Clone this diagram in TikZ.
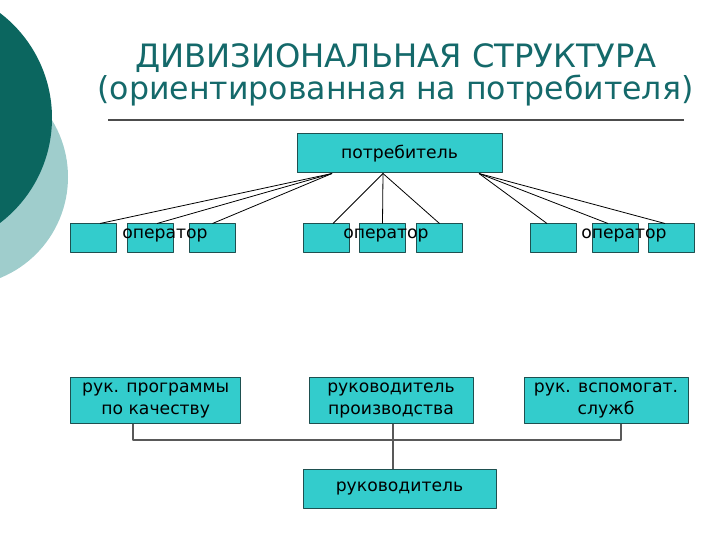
\documentclass[tikz,border=0pt]{standalone}
\usepackage{fontspec}
\setmainfont{DejaVu Sans}
\definecolor{darkteal}{HTML}{0B665F}
\definecolor{paleteal}{HTML}{9FCDCC}
\definecolor{titleteal}{HTML}{14696A}
\definecolor{turq}{HTML}{33CCCC}
\definecolor{boxedge}{HTML}{1E5050}
\tikzset{
  box/.style={draw=boxedge, fill=turq, line width=1pt, inner sep=0pt, align=center, font=\fontsize{17.2}{22}\selectfont},
  oplabel/.style={anchor=base, font=\fontsize{17.2}{22}\selectfont},
  headline/.style={anchor=base, text=titleteal},
  link/.style={line width=0.8pt},
  bus/.style={draw=black!65, line width=1.5pt}
}
\begin{document}
\begin{tikzpicture}[x=1pt, y=-1pt, line join=round]
	\useasboundingbox (0,0) rectangle (720,540);
	\begin{scope}
		\clip (0,0) rectangle (720,540);
		\fill[paleteal] (-41,177) circle (109pt);
		\fill[darkteal] (-80,118) circle (132pt);
	\end{scope}
	
	\node[headline, font=\fontsize{32.2}{36}\selectfont] (title) at (396,68) {ДИВИЗИОНАЛЬНАЯ СТРУКТУРА};
	\node[headline, font=\fontsize{31.6}{36}\selectfont] (subtitle) at (395.5,100) {(ориентированная на потребителя)};
	\draw[black!70, line width=1.5pt] (108,120) -- (684,120);
	
	\node[box, minimum width=205pt, minimum height=39pt] (cons) at (399.5,153.5) {потребитель};
	
	\foreach \n/\x in {1/93, 2/150.5, 3/212.5, 4/326, 5/382.5, 6/439.5, 7/553, 8/615, 9/671.5}
	\node[box, minimum width=46pt, minimum height=28pt] (op\n) at (\x,238) {};
	
	\foreach \n/\s/\t in {1/-67.5/7, 2/-67.5/6.5, 3/-67.5/0, 4/-16.5/7, 5/-16.5/0, 6/-16.5/0, 7/79.5/-6, 8/79.5/-7, 9/79.5/-6.5}
	\draw[link] ([xshift=\s pt]cons.south) -- ([xshift=\t pt]op\n.north);
	
	\foreach \n/\x in {1/165, 2/386, 3/624}
	\node[oplabel] (lab\n) at (\x,239) {оператор};
	
	\node[box, minimum width=170pt, minimum height=46pt] (prog) at (155.7,400) {рук. программы\\по качеству};
	\node[box, minimum width=164pt, minimum height=46pt] (prod) at (391,400) {руководитель\\производства};
	\node[box, minimum width=164pt, minimum height=46pt] (aux) at (606,400) {рук. вспомогат.\\служб};
	\node[box, minimum width=193pt, minimum height=39pt] (head) at (399.5,488.5) {руководитель};
	
	\coordinate (bus) at (393,440);
	\draw[bus] ([xshift=-22.7pt]prog.south) |- (bus) -| ([xshift=15pt]aux.south);
	\draw[bus] ([xshift=2pt]prod.south) -- ([xshift=2pt]prod.south |- head.north);
\end{tikzpicture}
\end{document}
